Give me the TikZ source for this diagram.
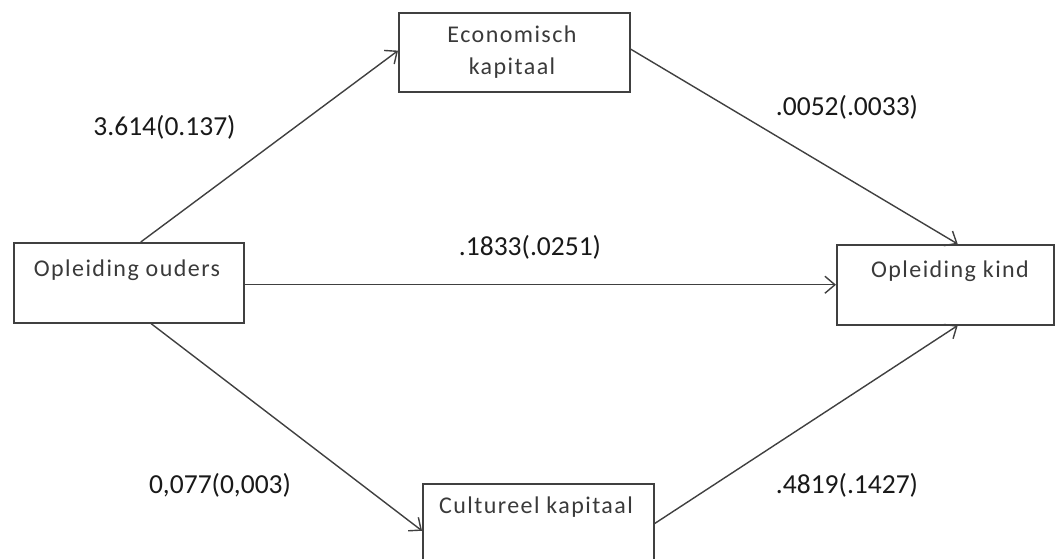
\documentclass[tikz,border=0pt]{standalone}
\usepackage{fontspec}
\setmainfont{Carlito}
\newfontfamily\boxfont[LetterSpace=6]{Carlito}
\usetikzlibrary{arrows.meta,calc}
\definecolor{linegray}{HTML}{404040}
\definecolor{txtgray}{HTML}{3A3A3A}
\tikzset{
  box/.style={draw=linegray, line width=1.5pt, rectangle, inner sep=0pt, anchor=north west},
  boxtext/.style={font=\boxfont\fontsize{24}{32}\selectfont, text=txtgray, anchor=base, align=center, inner sep=0pt},
  coef/.style={font=\fontsize{27.5}{30}\selectfont, text=black!90, anchor=base, inner sep=0pt},
  conn/.style={draw=linegray, line width=1.4pt, -{Straight Barb[length=10pt,width=17pt,line width=1.4pt]}}
}
\begin{document}
\begin{tikzpicture}[x=1pt,y=-1pt]
\clip (0,0) rectangle (1055,558);
\fill[white] (0,0) rectangle (1055,558);
% boxes
\node[box, minimum width=231pt, minimum height=79pt] (eco) at (398,12) {};
\node[box, minimum width=230pt, minimum height=80pt] (ou) at (13,242) {};
\node[box, minimum width=217pt, minimum height=80pt] (ki) at (836,244) {};
\node[box, minimum width=231pt, minimum height=90pt] (cu) at (422,483) {};
% box texts
\node[boxtext] (ecot) at (512,74) {Economisch\\kapitaal};
\node[boxtext] (out) at (127,276) {Opleiding ouders};
\node[boxtext] (kit) at (950,277) {Opleiding kind};
\node[boxtext] (cut) at (536,513) {Cultureel kapitaal};
% connectors
\draw[conn] ($(ou.north west)!0.552!(ou.north east)$) -- ($(eco.north west)!0.48!(eco.south west)$);
\draw[conn] ($(eco.north east)!0.46!(eco.south east)$) -- ($(ki.north west)!0.557!(ki.north east)$);
\draw[conn] (ou.east |- ki.west) -- (ki.west);
\draw[conn] ($(ou.south west)!0.596!(ou.south east)$) -- ($(cu.north west)!0.522!(cu.south west)$);
\draw[conn] ($(cu.north east)!0.444!(cu.south east)$) -- ($(ki.south west)!0.557!(ki.south east)$);
% coefficients
\node[coef] (c1) at (164.5,135) {3.614(0.137)};
\node[coef] (c2) at (847,115) {.0052(.0033)};
\node[coef] (c3) at (530,255) {.1833(.0251)};
\node[coef] (c4) at (220,493) {0,077(0,003)};
\node[coef] (c5) at (847,493) {.4819(.1427)};
\end{tikzpicture}
\end{document}
